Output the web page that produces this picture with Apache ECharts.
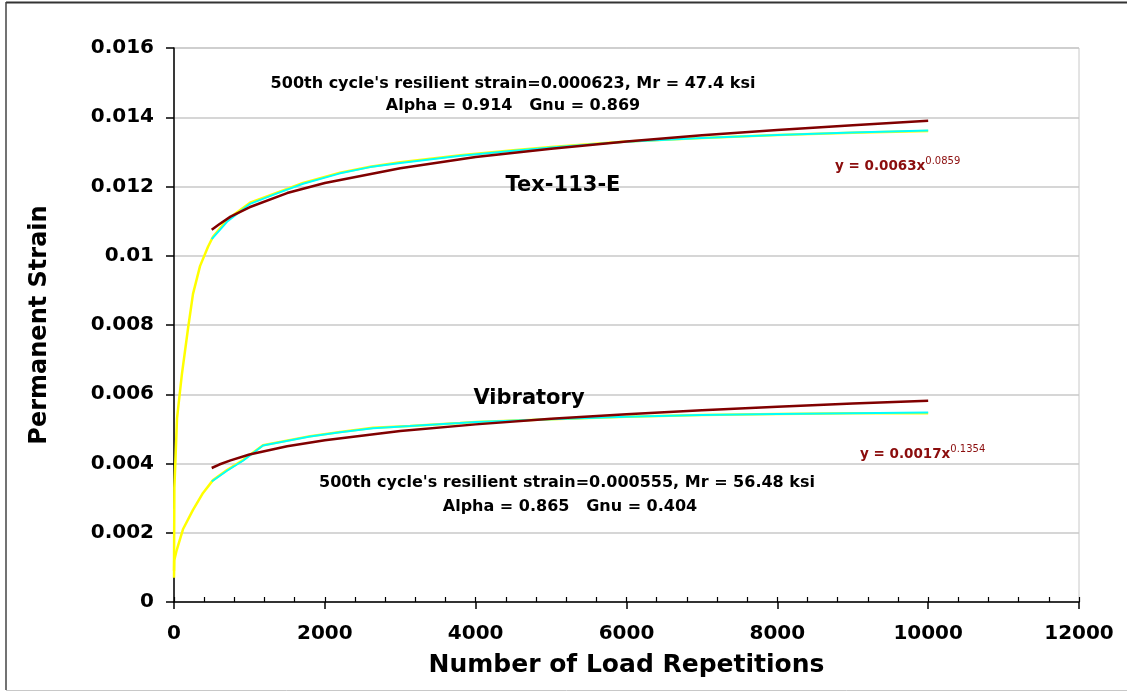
<!DOCTYPE html>
<html>
<head>
<meta charset="utf-8">
<script src="https://cdn.jsdelivr.net/npm/echarts@6/dist/echarts.min.js"></script>
<style>
  html, body { margin: 0; padding: 0; background: #ffffff; }
  #chart { width: 1127px; height: 692px; }
</style>
</head>
<body>
<div id="chart"></div>
<script>
// Permanent strain vs. load repetitions for two compaction methods.
// Each pair is [load repetitions, permanent strain].

// Tex-113-E specimen: measured curve, smoothed curve, power trend
const texMeasured = [
  [0, 0.0009], [5, 0.0033], [40, 0.0053], [106, 0.0066], [186, 0.0079],
  [252, 0.0089], [345, 0.0097], [451, 0.01026], [517, 0.01055], [703, 0.01104],
  [1008, 0.01153], [1366, 0.01182], [1711, 0.0121], [2202, 0.0124], [2600, 0.01257],
  [3000, 0.0127], [3800, 0.0129], [4500, 0.01305], [5000, 0.01314], [6000, 0.0133],
  [7000, 0.0134], [8000, 0.01349], [9000, 0.01355], [10000, 0.01360]
];
const texSmoothed = [
  [500, 0.01048], [703, 0.01098], [1008, 0.01150], [1366, 0.01180], [1711, 0.01208],
  [2202, 0.01238], [2600, 0.01256], [3000, 0.01268], [3800, 0.01289], [4500, 0.01303],
  [5000, 0.01313], [6000, 0.01329], [7000, 0.01340], [8000, 0.01349], [9000, 0.01356],
  [10000, 0.01362]
];
const texTrend = [
  [500, 0.01075], [600, 0.01091], [750, 0.01113], [1000, 0.0114], [1500, 0.01181],
  [2000, 0.0121], [3000, 0.01253], [4000, 0.01285], [5000, 0.01309], [6000, 0.0133],
  [7000, 0.01348], [8000, 0.01363], [9000, 0.01377], [10000, 0.0139]
];

// Vibratory specimen: measured curve, smoothed curve, power trend
const vibMeasured = [
  [0, 0.0007], [3, 0.0012], [36, 0.0015], [119, 0.0021], [252, 0.00266],
  [385, 0.00315], [517, 0.00352], [703, 0.00381], [915, 0.0041], [1180, 0.00453],
  [1804, 0.00479], [2202, 0.00491], [2639, 0.00503], [3130, 0.00508], [3793, 0.00517],
  [4000, 0.0052], [5000, 0.00528], [6000, 0.00535], [7000, 0.0054], [8000, 0.00543],
  [9000, 0.00545], [10000, 0.00545]
];
const vibSmoothed = [
  [500, 0.00348], [703, 0.00379], [915, 0.00408], [1180, 0.00452], [1804, 0.00478],
  [2202, 0.0049], [2639, 0.00502], [3130, 0.00508], [3793, 0.00517], [4000, 0.0052],
  [5000, 0.00528], [6000, 0.00535], [7000, 0.0054], [8000, 0.00543], [9000, 0.00545],
  [10000, 0.00547]
];
const vibTrend = [
  [500, 0.00387], [600, 0.00397], [750, 0.00409], [1000, 0.00426], [1500, 0.0045],
  [2000, 0.00467], [3000, 0.00494], [4000, 0.00513], [5000, 0.00529], [6000, 0.00542],
  [7000, 0.00554], [8000, 0.00564], [9000, 0.00573], [10000, 0.00581]
];

// Axis tick labels
const xTickLabels = ['0', '2000', '4000', '6000', '8000', '10000', '12000'];
const yTickLabels = ['0', '0.002', '0.004', '0.006', '0.008', '0.01', '0.012', '0.014', '0.016'];

const FONT = 'DejaVu Sans';
const MAROON = '#8b0d0d';

const chart = echarts.init(document.getElementById('chart'), null, { renderer: 'canvas' });

function lineSeries(name, data, color, width, z) {
  return {
    name: name, type: 'line', data: data, showSymbol: false, symbol: 'none',
    xAxisIndex: 0, yAxisIndex: 0, z: z, animation: false,
    lineStyle: { color: color, width: width }
  };
}

function centeredText(x, y, text, size) {
  return {
    type: 'text', x: x, y: y, silent: true, z: 10,
    style: { text: text, align: 'center', verticalAlign: 'middle',
      font: 'bold ' + size + 'px "DejaVu Sans"', fill: '#000' }
  };
}

function equationText(x, y, base, power) {
  return {
    type: 'text', x: x, y: y, silent: true, z: 10,
    style: { text: '{b|' + base + '}{s|' + power + '}', verticalAlign: 'middle',
      rich: {
        b: { font: 'bold 13.5px "DejaVu Sans"', fill: MAROON, color: MAROON },
        s: { font: '10px "DejaVu Sans"', fill: MAROON, color: MAROON, verticalAlign: 'top', padding: [0, 0, 9, 0] }
      } }
  };
}

chart.setOption({
  backgroundColor: '#ffffff',
  animation: false,
  grid: {
    left: 174, right: 48, top: 48, bottom: 90,
    show: true, borderColor: '#c8c8c8', borderWidth: 1, backgroundColor: 'transparent'
  },
  xAxis: [
    {
      type: 'value', min: 0, max: 12000, interval: 2000,
      name: 'Number of Load Repetitions', nameLocation: 'middle', nameGap: 51,
      nameTextStyle: { fontFamily: FONT, fontWeight: 'bold', fontSize: 25, color: '#000' },
      axisLine: { show: true, lineStyle: { color: '#000', width: 1.5 } },
      axisTick: { show: true, inside: false, length: 7, lineStyle: { color: '#000', width: 1.5 } },
      axisLabel: {
        margin: 22, fontFamily: FONT, fontWeight: 'bold', fontSize: 20, color: '#000',
        formatter: function (v) { return xTickLabels[Math.round(v / 2000)]; }
      },
      splitLine: { show: false }
    },
    {
      // inner tick marks every 400 repetitions
      type: 'value', min: 0, max: 12000, interval: 400, position: 'bottom',
      axisLine: { show: false },
      axisTick: { show: true, inside: true, length: 5, lineStyle: { color: '#000', width: 1.2 } },
      axisLabel: { show: false },
      splitLine: { show: false }
    }
  ],
  yAxis: {
    type: 'value', min: 0, max: 0.016, interval: 0.002,
    name: 'Permanent Strain', nameLocation: 'middle', nameGap: 122,
    nameTextStyle: { fontFamily: FONT, fontWeight: 'bold', fontSize: 24, color: '#000' },
    axisLine: { show: true, lineStyle: { color: '#000', width: 1.5 } },
    axisTick: { show: true, inside: false, length: 8, lineStyle: { color: '#000', width: 1.5 } },
    axisLabel: {
      margin: 20, fontFamily: FONT, fontWeight: 'bold', fontSize: 20, color: '#000',
      formatter: function (v) { return yTickLabels[Math.round(v / 0.002)]; }
    },
    splitLine: { show: true, lineStyle: { color: '#c8c8c8', width: 1.5 } }
  },
  series: [
    lineSeries('Tex-113-E measured', texMeasured, '#ffff00', 2.5, 3),
    lineSeries('Tex-113-E smoothed', texSmoothed, '#00ffff', 2, 4),
    lineSeries('Tex-113-E trend', texTrend, '#800000', 2.5, 5),
    lineSeries('Vibratory measured', vibMeasured, '#ffff00', 2.5, 3),
    lineSeries('Vibratory smoothed', vibSmoothed, '#00ffff', 2, 4),
    lineSeries('Vibratory trend', vibTrend, '#800000', 2.5, 5)
  ],
  graphic: [
    // outer chart frame
    { type: 'line', shape: { x1: 6, y1: 2.5, x2: 1127, y2: 2.5 }, style: { stroke: '#333', lineWidth: 2 }, silent: true },
    { type: 'line', shape: { x1: 6, y1: 2, x2: 6, y2: 690 }, style: { stroke: '#444', lineWidth: 1.5 }, silent: true },
    { type: 'line', shape: { x1: 6, y1: 690.5, x2: 1127, y2: 690.5 }, style: { stroke: '#c8c8c8', lineWidth: 1 }, silent: true },

    // Tex-113-E annotations
    centeredText(513, 84, "500th cycle's resilient strain=0.000623, Mr = 47.4 ksi", 16),
    centeredText(513, 106, 'Alpha = 0.914   Gnu = 0.869', 16),
    centeredText(563, 186, 'Tex-113-E', 21),

    // Vibratory annotations
    centeredText(529, 399, 'Vibratory', 21),
    centeredText(567, 483, "500th cycle's resilient strain=0.000555, Mr = 56.48 ksi", 16),
    centeredText(570, 507, 'Alpha = 0.865   Gnu = 0.404', 16),

    // trend-line equations
    equationText(835, 166, 'y = 0.0063x', '0.0859'),
    equationText(860, 454, 'y = 0.0017x', '0.1354')
  ]
});
</script>
</body>
</html>
